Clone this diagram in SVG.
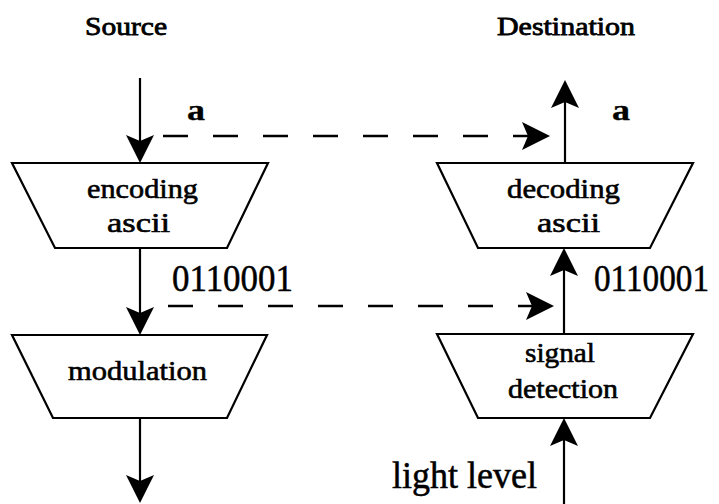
<svg xmlns="http://www.w3.org/2000/svg" width="719" height="504" viewBox="0 0 719 504">
<style>
  text { font-family: "Liberation Serif", "Times New Roman", serif; fill: #000; stroke: #000; stroke-width: 0.6; text-anchor: start; }
  .hdr { font-size: 26px; stroke-width: 0.8; }
  .lbl { font-size: 28px; }
  .big { font-size: 37px; stroke-width: 0.5; }
  .sm { font-size: 30px; font-weight: bold; stroke-width: 0.3; }
  .box { fill: #fff; stroke: #000; stroke-width: 2.2; }
  .solid { stroke: #000; stroke-width: 2.2; fill: none; }
  .dash { stroke: #000; stroke-width: 2.6; fill: none; stroke-dasharray: 25 25; }
  .head { fill: #000; stroke: none; }
</style>
<defs>
  <path id="ah" d="M0,0 L-28,-14 L-22,0 L-28,14 Z"/>
</defs>

<text class="hdr" x="85" y="35" textLength="82" lengthAdjust="spacingAndGlyphs">Source</text>
<text class="hdr" x="497" y="35" textLength="138" lengthAdjust="spacingAndGlyphs">Destination</text>

<g id="connectors">
  <line class="solid" x1="140" y1="78" x2="140" y2="150"/>
  <use href="#ah" class="head" transform="translate(140,163) rotate(90)"/>
  <line class="solid" x1="140" y1="248" x2="140" y2="322"/>
  <use href="#ah" class="head" transform="translate(140,335) rotate(90)"/>
  <line class="solid" x1="140" y1="418" x2="140" y2="490"/>
  <use href="#ah" class="head" transform="translate(140,503) rotate(90)"/>
  <line class="solid" x1="565" y1="163" x2="565" y2="93"/>
  <use href="#ah" class="head" transform="translate(565,80) rotate(-90)"/>
  <line class="solid" x1="564" y1="334" x2="564" y2="261"/>
  <use href="#ah" class="head" transform="translate(564,248) rotate(-90)"/>
  <line class="solid" x1="564" y1="504" x2="564" y2="431"/>
  <use href="#ah" class="head" transform="translate(564,418) rotate(-90)"/>
  <line class="dash" x1="163" y1="136" x2="540" y2="136"/>
  <use href="#ah" class="head" transform="translate(550,136)"/>
  <line class="dash" x1="168" y1="306" x2="545" y2="306"/>
  <use href="#ah" class="head" transform="translate(554,306)"/>
</g>

<g id="encoding">
  <polygon class="box" points="12,163 268,163 227,248 55,248"/>
  <text class="lbl" x="87" y="198" textLength="111" lengthAdjust="spacingAndGlyphs">encoding</text>
  <text class="lbl" x="107" y="232" textLength="63" lengthAdjust="spacingAndGlyphs">ascii</text>
</g>

<g id="modulation">
  <polygon class="box" points="12,335 267,335 227,418 53,418"/>
  <text class="lbl" x="68" y="380" textLength="139" lengthAdjust="spacingAndGlyphs">modulation</text>
</g>

<g id="decoding">
  <polygon class="box" points="437,163 693,163 650,248 478,248"/>
  <text class="lbl" x="507" y="198" textLength="113" lengthAdjust="spacingAndGlyphs">decoding</text>
  <text class="lbl" x="537" y="232" textLength="63" lengthAdjust="spacingAndGlyphs">ascii</text>
</g>

<g id="signal-detection">
  <polygon class="box" points="437,334 693,334 650,418 478,418"/>
  <text class="lbl" x="525" y="362" textLength="70" lengthAdjust="spacingAndGlyphs">signal</text>
  <text class="lbl" x="508" y="398" textLength="110" lengthAdjust="spacingAndGlyphs">detection</text>
</g>

<g id="labels">
  <text class="sm" x="187" y="120" textLength="18" lengthAdjust="spacingAndGlyphs">a</text>
  <text class="sm" x="612" y="120" textLength="18" lengthAdjust="spacingAndGlyphs">a</text>
  <text class="big" x="172" y="291" textLength="121" lengthAdjust="spacingAndGlyphs">0110001</text>
  <text class="big" x="594" y="291" textLength="115" lengthAdjust="spacingAndGlyphs">0110001</text>
  <text class="big" x="392" y="488" textLength="145" lengthAdjust="spacingAndGlyphs">light level</text>
</g>
</svg>
